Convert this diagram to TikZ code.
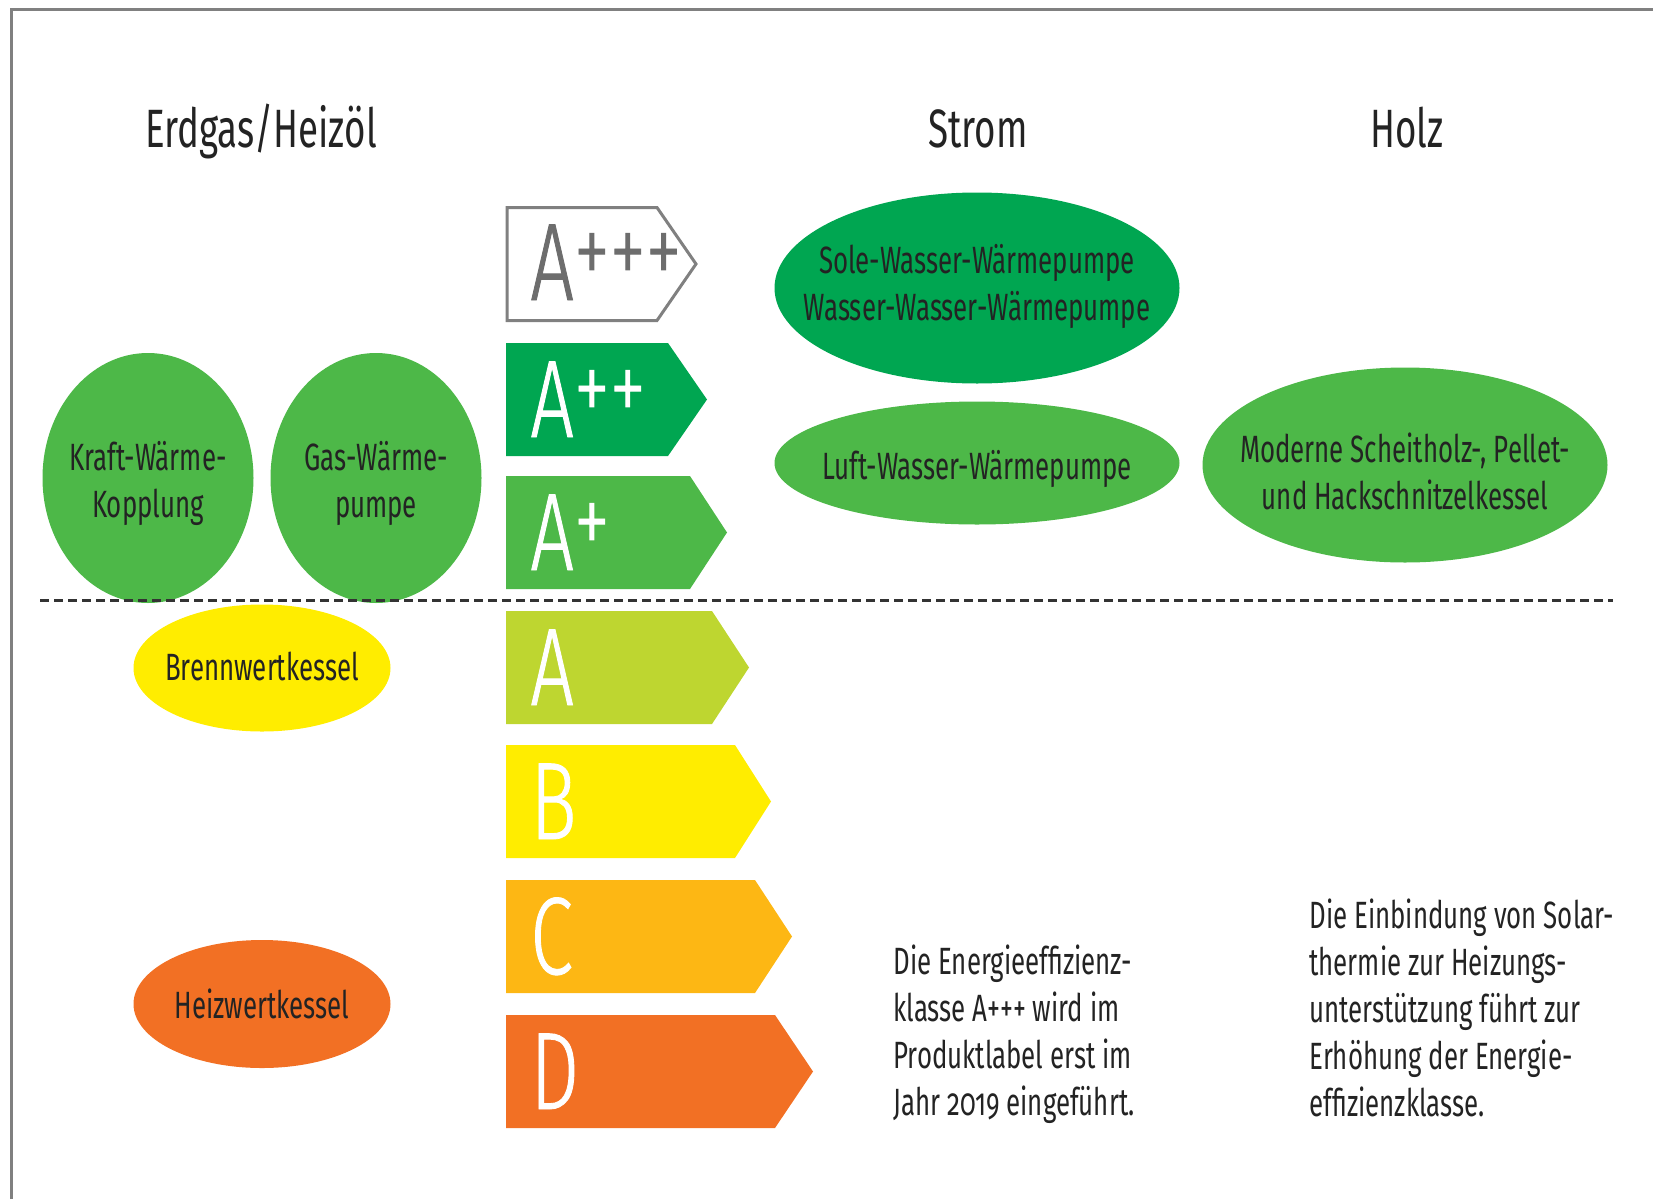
\documentclass[tikz,border=0pt]{standalone}
\usepackage{fontspec}
\setmainfont[FakeStretch=0.68, Numbers=OldStyle]{Fira Sans}
\newfontfamily\klassefont[FakeStretch=0.7, FakeBold=0.8]{Fira Sans Light}
\usetikzlibrary{shapes.geometric}

\definecolor{gruendunkel}{RGB}{0,166,81}
\definecolor{gruen}{RGB}{77,184,72}
\definecolor{gelbgruen}{RGB}{190,214,48}
\definecolor{gelb}{RGB}{255,237,0}
\definecolor{orangegelb}{RGB}{253,183,20}
\definecolor{orangerot}{RGB}{242,112,36}
\definecolor{rahmen}{RGB}{128,128,128}
\definecolor{schrift}{RGB}{35,35,35}

\newcommand{\hoch}[1]{\raisebox{7pt}{\fontsize{52}{52}\selectfont #1}}

\tikzset{
  kopf/.style={font=\fontsize{27}{32}\selectfont, text=schrift, inner sep=0pt, anchor=base},
  blase/.style={ellipse, inner sep=0pt, draw=none},
  blasentext/.style={font=\fontsize{19}{23.5}\selectfont, text=schrift, align=center, inner sep=0pt},
  klasse/.style={font=\klassefont\fontsize{55}{55}\selectfont, text=white, inner sep=0pt, anchor=base west},
  hinweis/.style={font=\fontsize{19}{23.5}\selectfont, text=schrift, align=left, inner sep=0pt, anchor=north west}
}

\begin{document}
\begin{tikzpicture}[x=0.5pt, y=-0.5pt]
  \useasboundingbox (0,0) rectangle (1653,1199);
  % Rahmen
  \draw[rahmen, line width=1.5pt] (11,1199) -- (11,9) -- (1653,9);

  % Spaltenkoepfe
  \node[kopf] (kopf-gas) at (261,147) {Erdgas/Heizöl};
  \node[kopf] (kopf-strom) at (978,147) {Strom};
  \node[kopf] (kopf-holz) at (1407,147) {Holz};

  % Effizienzklassen
  \draw[rahmen, line width=1.5pt, fill=white] (507,207.5) -- (657,207.5) -- (696,264) -- (657,320.5) -- (507,320.5) -- cycle;
  \node[klasse, text=rahmen!85!black] (kl-appp) at (530,300) {A\hoch{+++}};
  \foreach \n/\oben/\rechts/\spitze/\farbe/\txt in {
      app/343/668/707/gruendunkel/{A\hoch{++}},
      ap/476/690/727/gruen/{A\hoch{+}},
      a/611/712/749/gelbgruen/A,
      b/745/735/771/gelb/B,
      c/880/755/792/orangegelb/C,
      d/1015/775/813/orangerot/D}{
    \fill[\farbe] (506,\oben) -- (\rechts,\oben) -- (\spitze,{\oben+56.5}) -- (\rechts,{\oben+113}) -- (506,{\oben+113}) -- cycle;
    \node[klasse] (kl-\n) at (530,{\oben+94}) {\txt};
  }

  % Heizsysteme
  \node[blase, fill=gruen, minimum width=105.5pt, minimum height=125pt,
    label={[blasentext, yshift=-2.5pt]center:{Kraft-Wärme-\\Kopplung}}] (kwk) at (148,478) {};
  \node[blase, fill=gruen, minimum width=105.5pt, minimum height=125pt,
    label={[blasentext, yshift=-2.5pt]center:{Gas-Wärme-\\pumpe}}] (gaswp) at (376,478) {};
  \node[blase, fill=gelb, minimum width=128.5pt, minimum height=63.5pt,
    label={[blasentext, yshift=1pt]center:{Brennwertkessel}}] (brennwert) at (262,668) {};
  \node[blase, fill=orangerot, minimum width=128.5pt, minimum height=64pt,
    label={[blasentext]center:{Heizwertkessel}}] (heizwert) at (262,1004) {};
  \node[blase, fill=gruendunkel, minimum width=202.5pt, minimum height=95.5pt,
    label={[blasentext, yshift=1pt]center:{Sole-Wasser-Wärmepumpe\\Wasser-Wasser-Wärmepumpe}}] (solewp) at (977,288) {};
  \node[blase, fill=gruen, minimum width=202.5pt, minimum height=61.5pt,
    label={[blasentext, yshift=-3pt]center:{Luft-Wasser-Wärmepumpe}}] (luftwp) at (977,463) {};
  \node[blase, fill=gruen, minimum width=202.5pt, minimum height=97.5pt,
    label={[blasentext, yshift=-3pt]center:{Moderne Scheitholz-, Pellet-\\und Hackschnitzelkessel}}] (holzkessel) at (1405,465) {};

  % Grenze
  \draw[dash pattern=on 4.5pt off 2.5pt, line width=1.5pt, black!80] (40,600) -- (1613,600);

  % Hinweise
  \node[hinweis] (hinweis-klasse) at (893,944) {Die Energieeffizienz-\\klasse A+++ wird im\\Produktlabel erst im\\Jahr 2019 eingeführt.};
  \node[hinweis] (hinweis-solar) at (1309,898) {Die Einbindung von Solar-\\thermie zur Heizungs-\\unterstützung führt zur\\Erhöhung der Energie-\\effizienzklasse.};
\end{tikzpicture}
\end{document}
